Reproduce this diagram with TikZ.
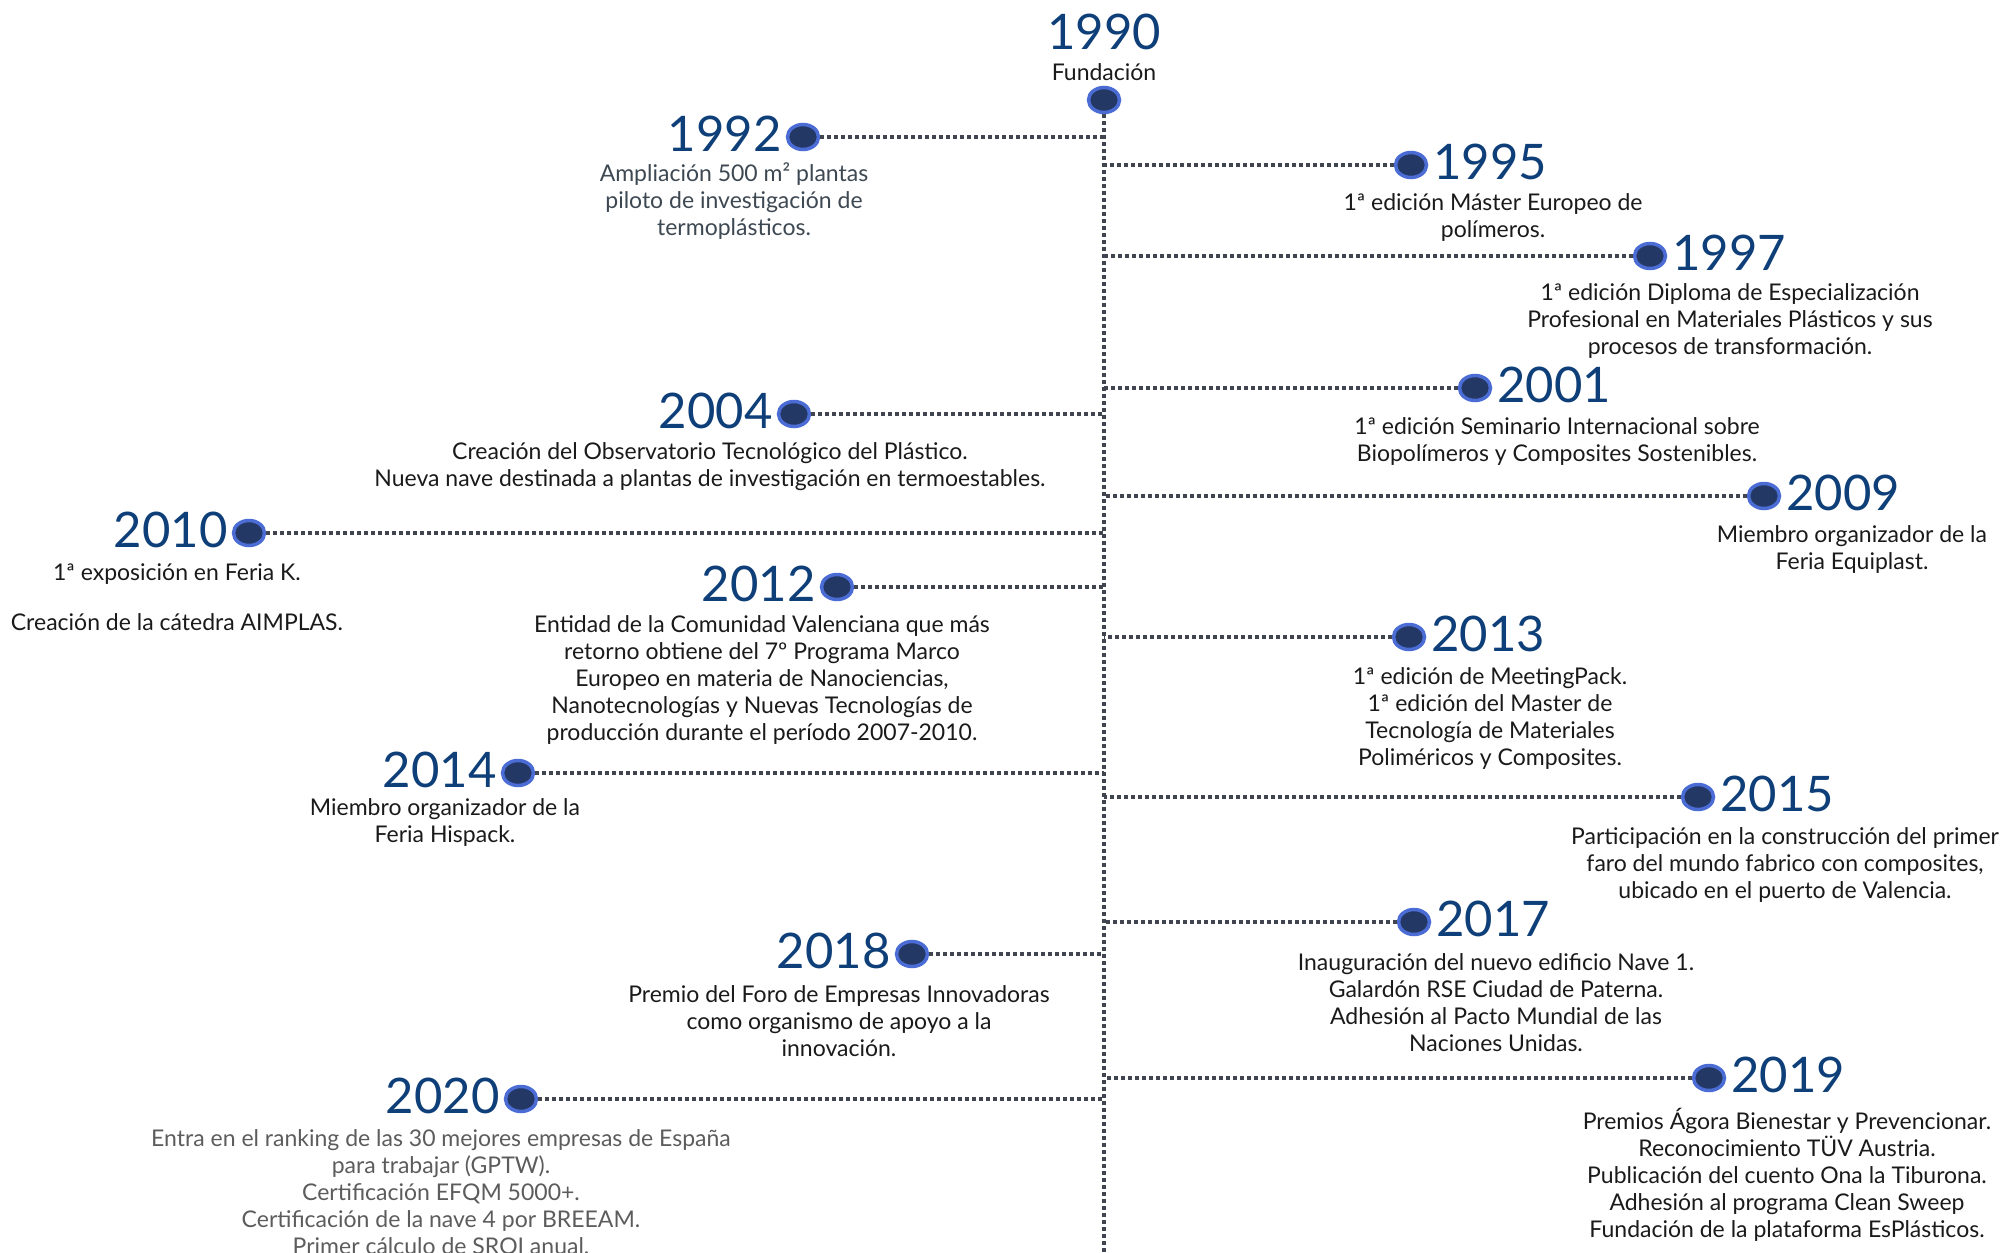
\documentclass[tikz,border=0pt]{standalone}
\usepackage{fontspec}
\setmainfont{Lato}
\usepackage{tikz}
\usetikzlibrary{positioning}
\usetikzlibrary{shapes.geometric}
\definecolor{yearblue}{HTML}{0F3F78}
\definecolor{dotfill}{HTML}{243866}
\definecolor{dotring}{HTML}{4A6CD4}
\definecolor{linegray}{HTML}{40454F}
\definecolor{textdark}{HTML}{1A1A1A}
\definecolor{textslate}{HTML}{3D4852}
\definecolor{textlight}{HTML}{5C5C5C}

\begin{document}
\begin{tikzpicture}[
    x=1pt, y=-1pt,
    dot/.style={
        ellipse,
        draw=dotring,
        fill=dotfill,
        line width=3.5pt,
        minimum width=31pt,
        minimum height=25pt,
        inner sep=0pt},
    year/.style={text=yearblue, font=\fontsize{49}{49}\selectfont, inner sep=0pt},
    desc/.style={text=textdark, font=\fontsize{23}{27}\selectfont, align=center, inner sep=0pt},
    link/.style={draw=linegray, line width=3.5pt, dash pattern=on 3.5pt off 3.5pt}]
    \useasboundingbox (0,0) rectangle (2006,1253);
    \coordinate (bottom) at (1104,1253);

    % origin
    \node[year] (y1990) at (1104,32) {1990};
    \node[desc] (t1990) at (1104,72) {Fundación};
    \node[dot] (d1990) at (1104,100) {};
    \draw[link] (d1990) -- (bottom);

    % left branch
    \node[dot] (d1992) at (803,137) {};
    \node[year, left=4pt of d1992, yshift=3pt] (y1992) {1992};
    \node[desc, text=textslate] (t1992) at (734,201) {Ampliación 500 m² plantas\\ piloto de investigación de\\ termoplásticos.};
    \draw[link] (d1992) -- (d1992 -| bottom);

    \node[dot] (d2004) at (794,414) {};
    \node[year, left=4pt of d2004, yshift=3pt] (y2004) {2004};
    \node[desc] (t2004) at (710,467) {Creación del Observatorio Tecnológico del Plástico.\\ Nueva nave destinada a plantas de investigación en termoestables.};
    \draw[link] (d2004) -- (d2004 -| bottom);

    \node[dot] (d2010) at (249,533) {};
    \node[year, left=4pt of d2010, yshift=3pt] (y2010) {2010};
    \node[desc] (t2010) at (177,597) {1ª exposición en Feria K.\\[23pt] Creación de la cátedra AIMPLAS.};
    \draw[link] (d2010) -- (d2010 -| bottom);

    \node[dot] (d2012) at (837,587) {};
    \node[year, left=4pt of d2012, yshift=3pt] (y2012) {2012};
    \node[desc] (t2012) at (762,680) {Entidad de la Comunidad Valenciana que más\\ retorno obtiene del 7º Programa Marco\\ Europeo en materia de Nanociencias,\\ Nanotecnologías y Nuevas Tecnologías de\\ producción durante el período 2007-2010.};
    \draw[link] (d2012) -- (d2012 -| bottom);

    \node[dot] (d2014) at (518,773) {};
    \node[year, left=4pt of d2014, yshift=3pt] (y2014) {2014};
    \node[desc] (t2014) at (445,822) {Miembro organizador de la\\ Feria Hispack.};
    \draw[link] (d2014) -- (d2014 -| bottom);

    \node[dot] (d2018) at (912,954) {};
    \node[year, left=4pt of d2018, yshift=3pt] (y2018) {2018};
    \node[desc] (t2018) at (839,1021) {Premio del Foro de Empresas Innovadoras\\ como organismo de apoyo a la\\ innovación.};
    \draw[link] (d2018) -- (d2018 -| bottom);

    \node[dot] (d2020) at (521,1099) {};
    \node[year, left=4pt of d2020, yshift=3pt] (y2020) {2020};
    \node[desc, text=textlight] (t2020) at (441,1192) {Entra en el ranking de las 30 mejores empresas de España\\ para trabajar (GPTW).\\ Certificación EFQM 5000+.\\ Certificación de la nave 4 por BREEAM.\\ Primer cálculo de SROI anual.};
    \draw[link] (d2020) -- (d2020 -| bottom);

    % right branch
    \node[dot] (d1995) at (1411,165) {};
    \node[year, right=5pt of d1995, yshift=3pt] (y1995) {1995};
    \node[desc] (t1995) at (1493,217) {1ª edición Máster Europeo de\\ polímeros.};
    \draw[link] (d1995) -- (d1995 -| bottom);

    \node[dot] (d1997) at (1650,256) {};
    \node[year, right=5pt of d1997, yshift=3pt] (y1997) {1997};
    \node[desc] (t1997) at (1730,321) {1ª edición Diploma de Especialización\\ Profesional en Materiales Plásticos y sus\\ procesos de transformación.};
    \draw[link] (d1997) -- (d1997 -| bottom);

    \node[dot] (d2001) at (1475,388) {};
    \node[year, right=5pt of d2001, yshift=3pt] (y2001) {2001};
    \node[desc] (t2001) at (1557,441) {1ª edición Seminario Internacional sobre\\ Biopolímeros y Composites Sostenibles.};
    \draw[link] (d2001) -- (d2001 -| bottom);

    \node[dot] (d2009) at (1764,496) {};
    \node[year, right=5pt of d2009, yshift=3pt] (y2009) {2009};
    \node[desc] (t2009) at (1852,549) {Miembro organizador de la\\ Feria Equiplast.};
    \draw[link] (d2009) -- (d2009 -| bottom);

    \node[dot] (d2013) at (1409,637) {};
    \node[year, right=5pt of d2013, yshift=3pt] (y2013) {2013};
    \node[desc] (t2013) at (1490,718) {1ª edición de MeetingPack.\\ 1ª edición del Master de\\ Tecnología de Materiales\\ Poliméricos y Composites.};
    \draw[link] (d2013) -- (d2013 -| bottom);

    \node[dot] (d2015) at (1698,797) {};
    \node[year, right=5pt of d2015, yshift=3pt] (y2015) {2015};
    \node[desc] (t2015) at (1785,865) {Participación en la construcción del primer\\ faro del mundo fabrico con composites,\\ ubicado en el puerto de Valencia.};
    \draw[link] (d2015) -- (d2015 -| bottom);

    \node[dot] (d2017) at (1414,922) {};
    \node[year, right=5pt of d2017, yshift=3pt] (y2017) {2017};
    \node[desc] (t2017) at (1496,1003) {Inauguración del nuevo edificio Nave 1.\\ Galardón RSE Ciudad de Paterna.\\ Adhesión al Pacto Mundial de las\\ Naciones Unidas.};
    \draw[link] (d2017) -- (d2017 -| bottom);

    \node[dot] (d2019) at (1709,1078) {};
    \node[year, right=5pt of d2019, yshift=3pt] (y2019) {2019};
    \node[desc] (t2019) at (1787,1175) {Premios Ágora Bienestar y Prevencionar.\\ Reconocimiento TÜV Austria.\\ Publicación del cuento Ona la Tiburona.\\ Adhesión al programa Clean Sweep\\ Fundación de la plataforma EsPlásticos.};
    \draw[link] (d2019) -- (d2019 -| bottom);
\end{tikzpicture}
\end{document}
